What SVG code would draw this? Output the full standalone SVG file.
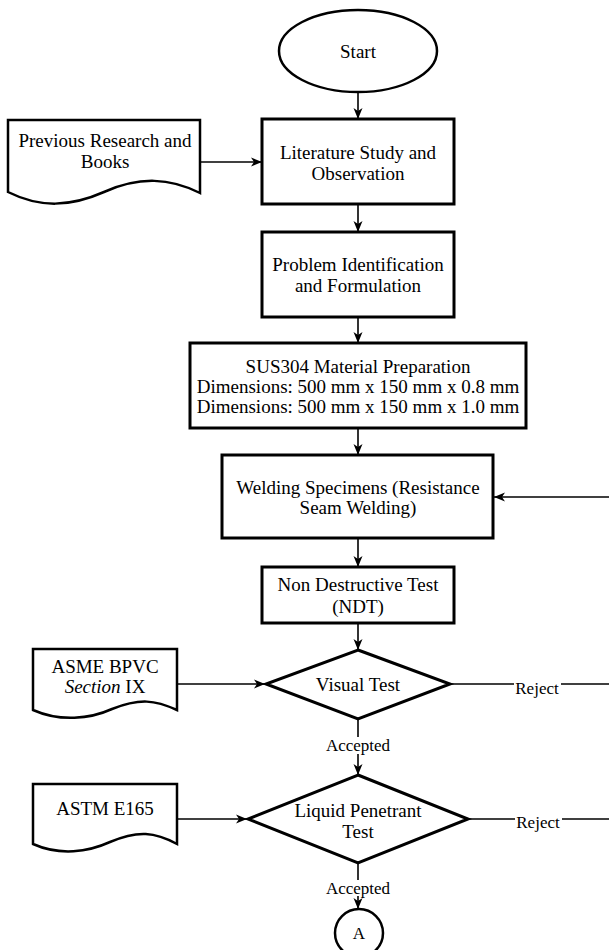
<svg xmlns="http://www.w3.org/2000/svg" width="609" height="950" viewBox="0 0 609 950">
<defs>
<marker id="arr" viewBox="0 0 12 10" refX="11" refY="5" markerWidth="12" markerHeight="10" markerUnits="userSpaceOnUse" orient="auto">
<path d="M0,0.5 L11,5 L0,9.5 L3,5 Z" fill="#000"/>
</marker>
</defs>
<style>
.box{fill:#fff;stroke:#000;stroke-width:3}
.doc{fill:#fff;stroke:#000;stroke-width:2.5}
.t{font-family:"Liberation Serif","Times New Roman",serif;font-size:19px;fill:#000;text-anchor:middle}
.lbl{font-family:"Liberation Serif","Times New Roman",serif;font-size:17px;fill:#000;text-anchor:middle}
.c{fill:none;stroke:#000;stroke-width:1.6}
.bg{fill:#fff}
</style>
<rect width="609" height="950" fill="#fff"/>

<g id="connectors">
<line class="c" x1="358" y1="92" x2="358" y2="119" marker-end="url(#arr)"/>
<line class="c" x1="200" y1="162" x2="262" y2="162" marker-end="url(#arr)"/>
<line class="c" x1="358" y1="204" x2="358" y2="232" marker-end="url(#arr)"/>
<line class="c" x1="358" y1="317" x2="358" y2="343" marker-end="url(#arr)"/>
<line class="c" x1="358" y1="428" x2="358" y2="455" marker-end="url(#arr)"/>
<line class="c" x1="609" y1="497" x2="494" y2="497" marker-end="url(#arr)"/>
<line class="c" x1="358" y1="538" x2="358" y2="567" marker-end="url(#arr)"/>
<line class="c" x1="358" y1="623" x2="358" y2="650" marker-end="url(#arr)"/>
<line class="c" x1="177" y1="684" x2="265" y2="684" marker-end="url(#arr)"/>
<line class="c" x1="450" y1="684" x2="609" y2="684"/>
<rect class="bg" x="514" y="676" width="47" height="20"/>
<text class="lbl" x="537" y="694">Reject</text>
<line class="c" x1="358" y1="719" x2="358" y2="775" marker-end="url(#arr)"/>
<rect class="bg" x="326" y="737" width="64" height="17"/>
<text class="lbl" x="358" y="751">Accepted</text>
<line class="c" x1="177" y1="819" x2="247" y2="819" marker-end="url(#arr)"/>
<line class="c" x1="468" y1="819" x2="609" y2="819"/>
<rect class="bg" x="515" y="811" width="47" height="20"/>
<text class="lbl" x="538" y="828">Reject</text>
<line class="c" x1="358" y1="863" x2="358" y2="909" marker-end="url(#arr)"/>
<rect class="bg" x="326" y="880" width="64" height="16"/>
<text class="lbl" x="358" y="894">Accepted</text>
</g>

<g id="start">
<ellipse cx="358" cy="51" rx="79" ry="41" fill="#fff" stroke="#000" stroke-width="2.5"/>
<text class="t" x="358" y="58">Start</text>
</g>

<g id="previous-research">
<path class="doc" d="M8,120 H200 V193 C170,178 140,176 104,192 C70,207 40,208 8,192 Z"/>
<text class="t" x="105" y="147">Previous Research and</text>
<text class="t" x="105" y="168">Books</text>
</g>

<g id="literature">
<rect class="box" x="262" y="119" width="192" height="85"/>
<text class="t" x="358" y="159">Literature Study and</text>
<text class="t" x="358" y="180">Observation</text>
</g>

<g id="problem">
<rect class="box" x="262" y="232" width="192" height="85"/>
<text class="t" x="358" y="271">Problem Identification</text>
<text class="t" x="358" y="292">and Formulation</text>
</g>

<g id="material">
<rect class="box" x="190" y="343" width="336" height="85"/>
<text class="t" x="358" y="373">SUS304 Material Preparation</text>
<text class="t" x="358" y="393">Dimensions: 500 mm x 150 mm x 0.8 mm</text>
<text class="t" x="358" y="413">Dimensions: 500 mm x 150 mm x 1.0 mm</text>
</g>

<g id="welding">
<rect class="box" x="222" y="455" width="271" height="83"/>
<text class="t" x="358" y="494">Welding Specimens (Resistance</text>
<text class="t" x="358" y="514">Seam Welding)</text>
</g>

<g id="ndt">
<rect class="box" x="262" y="567" width="192" height="56"/>
<text class="t" x="358" y="591">Non Destructive Test</text>
<text class="t" x="358" y="613">(NDT)</text>
</g>

<g id="asme">
<path class="doc" d="M33,649 H177 V710 C155,700 140,698 112,709 C90,719 60,722 33,710 Z"/>
<text class="t" x="105" y="673">ASME BPVC</text>
<text class="t" x="105" y="693"><tspan font-style="italic">Section</tspan> IX</text>
</g>

<g id="visual-test">
<polygon class="box" points="358,650 450,684 358,719 266,684"/>
<text class="t" x="358" y="691">Visual Test</text>
</g>

<g id="astm">
<path class="doc" d="M33,784 H177 V844 C155,832 138,830 110,842 C88,852 60,856 33,844 Z"/>
<text class="t" x="105" y="815">ASTM E165</text>
</g>

<g id="liquid-penetrant">
<polygon class="box" points="358,775 468,819 358,863 248,819"/>
<text class="t" x="358" y="817">Liquid Penetrant</text>
<text class="t" x="358" y="838">Test</text>
</g>

<g id="connector-a">
<circle cx="359" cy="933" r="24" fill="#fff" stroke="#000" stroke-width="2.5"/>
<text class="lbl" x="359" y="939">A</text>
</g>
</svg>
